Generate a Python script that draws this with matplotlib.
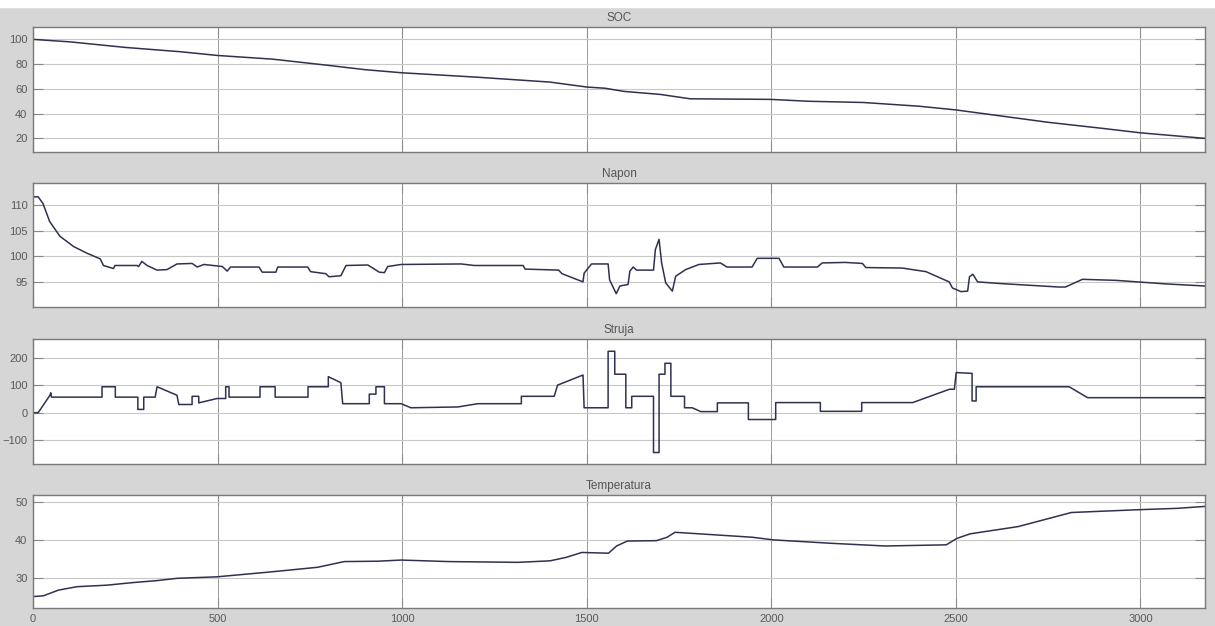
import numpy as np
import matplotlib
matplotlib.use("Agg")
import matplotlib.pyplot as plt

plt.rcParams['font.family'] = ['Liberation Sans', 'DejaVu Sans']

# VREMENSKA OSA I PODACI OČITANI SA SLIKE

soc_t = [0, 100, 250, 400, 500, 650, 800, 900, 1000, 1200, 1400, 1500, 1550, 1600, 1700,
         1780, 2000, 2100, 2250, 2400, 2500, 2600, 2750, 2900, 3000, 3175]
soc_v = [100, 98, 93.5, 90, 87, 84, 79, 75.5, 73, 69.5, 65.5, 61.5, 60.5, 58, 55.5,
         52, 51.5, 50, 49, 46, 43, 39, 33, 28, 24.5, 20]

napon_t = [0, 14, 27, 45, 73, 110, 146, 182, 191, 218, 222, 282, 286, 295, 309, 336, 363, 390,
           431, 445, 463, 513, 526, 535, 612, 621, 658, 663, 744, 752, 793, 802, 834, 848, 907,
           938, 952, 961, 997, 1160, 1196, 1328, 1333, 1424, 1433, 1490, 1493, 1513, 1558, 1562,
           1580, 1590, 1612, 1617, 1626, 1635, 1681, 1686, 1696, 1703, 1714, 1732, 1741, 1768,
           1804, 1862, 1880, 1948, 1962, 2021, 2034, 2125, 2138, 2201, 2247, 2256, 2355, 2419,
           2482, 2491, 2514, 2532, 2537, 2546, 2559, 2616, 2779, 2797, 2843, 2934, 3070, 3175]
napon_v = [111.6, 111.6, 110.3, 106.8, 103.9, 101.9, 100.6, 99.5, 98.2, 97.6, 98.2, 98.2, 98.0,
           99.0, 98.2, 97.3, 97.4, 98.5, 98.6, 97.9, 98.4, 98.0, 97.1, 97.9, 97.9, 96.9, 96.9,
           97.9, 97.9, 97.0, 96.6, 96.0, 96.2, 98.2, 98.3, 96.9, 96.8, 98.0, 98.4, 98.5, 98.2,
           98.2, 97.5, 97.3, 96.6, 95.0, 96.7, 98.5, 98.5, 95.4, 92.7, 94.2, 94.5, 97.1, 97.9,
           97.3, 97.3, 101.3, 103.3, 98.7, 94.8, 93.2, 96.1, 97.4, 98.4, 98.7, 97.9, 97.9, 99.6,
           99.6, 97.9, 97.9, 98.7, 98.8, 98.6, 97.8, 97.7, 97.0, 95.0, 93.8, 93.1, 93.2, 96.0,
           96.5, 95.0, 94.7, 94.0, 94.0, 95.5, 95.3, 94.6, 94.2]

struja_t = [0, 14, 46, 48, 50, 187, 187, 223, 223, 284, 284, 300, 300, 331, 336, 390, 395, 431,
            431, 449, 449, 499, 522, 522, 531, 531, 615, 615, 656, 656, 745, 745, 800, 800, 834,
            839, 911, 911, 929, 929, 952, 952, 997, 1024, 1151, 1205, 1323, 1323, 1412, 1421,
            1490, 1493, 1558, 1558, 1576, 1576, 1606, 1606, 1622, 1622, 1681, 1681, 1696, 1696,
            1712, 1712, 1728, 1728, 1765, 1765, 1786, 1809, 1854, 1854, 1938, 1938, 2012, 2012,
            2133, 2133, 2245, 2245, 2383, 2483, 2496, 2501, 2544, 2544, 2555, 2555, 2807, 2857, 3175]
struja_v = [0, 0, 64, 73, 57, 57, 95, 95, 57, 57, 12, 12, 57, 57, 95, 64, 30, 30,
            60, 60, 36, 52, 52, 95, 95, 57, 57, 95, 95, 57, 57, 95, 95, 132, 110,
            33, 33, 68, 68, 95, 95, 33, 33, 18, 21, 33, 33, 60, 60, 101,
            138, 18, 18, 225, 225, 141, 141, 18, 18, 60, 60, -146, -146, 141,
            141, 181, 181, 60, 60, 18, 18, 4, 4, 36, 36, -25, -25, 37,
            37, 5, 5, 37, 37, 86, 86, 147, 144, 43, 43, 95, 95, 55, 55]

temp_t = [0, 28, 69, 119, 200, 273, 336, 390, 499, 635, 771, 843, 934, 997, 1127, 1314, 1401,
          1444, 1487, 1559, 1581, 1610, 1689, 1718, 1739, 1804, 1948, 2006, 2164, 2308, 2474,
          2503, 2539, 2669, 2813, 2986, 3101, 3175]
temp_v = [25.2, 25.4, 26.9, 27.8, 28.2, 28.9, 29.4, 30.0, 30.4, 31.6, 32.9, 34.4, 34.5, 34.8,
          34.4, 34.2, 34.6, 35.5, 36.8, 36.6, 38.5, 39.8, 39.9, 40.8, 42.1, 41.7, 40.8, 40.1,
          39.2, 38.5, 38.8, 40.5, 41.7, 43.6, 47.3, 48.0, 48.4, 48.9]

naslovi = ["SOC", "Napon", "Struja", "Temperatura"]
y_granice = [(9, 110), (90.1, 114.3), (-188, 270), (22.2, 51.9)]
y_tikovi = [[20, 40, 60, 80, 100], [95, 100, 105, 110], [-100, 0, 100, 200], [30, 40, 50]]
x_tikovi = [0, 500, 1000, 1500, 2000, 2500, 3000]

# POZICIJE PANELA (U PIKSELIMA: GORE, DOLE)

paneli = [(27, 152), (183, 307), (339, 464), (495, 608)]
serije = [(soc_t, soc_v), (napon_t, napon_v), (struja_t, struja_v), (temp_t, temp_v)]

W, H = 1215, 626
fig = plt.figure(figsize=(W / 100, H / 100), dpi=100)
fig.patch.set_facecolor('#d6d6d6')

# BELA TRAKA NA VRHU

fig.add_artist(plt.Rectangle((0, 1 - 7 / H), 1, 7 / H, transform=fig.transFigure,
                             color='white', zorder=0))

for i in range(4):

    gore, dole = paneli[i]
    ax = fig.add_axes([33 / W, 1 - dole / H, (1205 - 33) / W, (dole - gore) / H])
    ax.set_facecolor('white')

    t, v = serije[i]
    ax.plot(t, v, color='#2e3250', linewidth=1.1)

    ax.set_xlim(0, 3175)
    ax.set_ylim(*y_granice[i])
    ax.set_yticks(y_tikovi[i])
    ax.set_xticks(x_tikovi)

    ax.xaxis.grid(True, color='#9a9a9a', linewidth=0.7)
    ax.yaxis.grid(True, color='#c8c8c8', linewidth=0.8)
    ax.set_axisbelow(True)

    ax.tick_params(direction='in', length=7, width=0.8, colors='#8a8a8a',
                   labelcolor='#5a5a5a', labelsize=8, top=True, right=True, pad=4)

    if i < 3:
        ax.tick_params(labelbottom=False)

    for s in ax.spines.values():
        s.set_color('#7a7a7a')
        s.set_linewidth(1.0)

    ax.set_title(naslovi[i], fontsize=8.5, color='#555555', pad=4)

fig.savefig("out.png", dpi=100, facecolor=fig.get_facecolor())
